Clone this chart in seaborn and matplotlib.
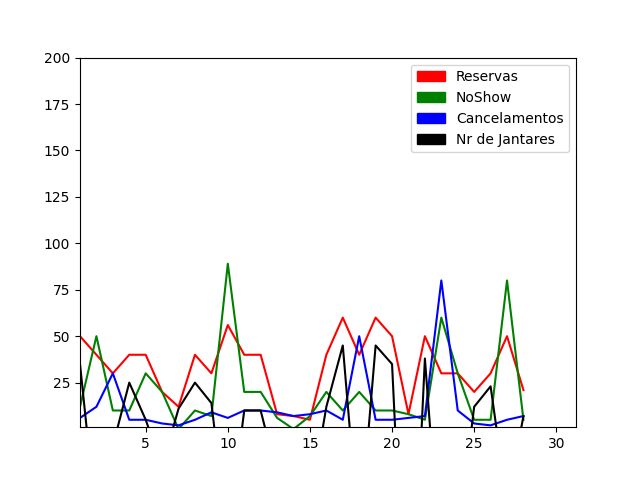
import matplotlib
matplotlib.use('Agg')
import matplotlib.pyplot as plt
import matplotlib.patches as mpatches
import seaborn as sns

dias = list(range(1, 29))
reservas = [50, 40, 30, 40, 40, 20, 12, 40, 30, 56, 40, 40, 8, 7, 5, 40, 60, 40, 60, 50, 8, 50, 30, 30, 20, 30, 50, 21]
noshow = [12, 50, 10, 10, 30, 20, 0, 10, 7, 89, 20, 20, 6, 0, 7, 20, 10, 20, 10, 10, 8, 5, 60, 30, 5, 5, 80, 5]
cancelamentos = [6, 12, 30, 5, 5, 3, 2, 5, 9, 6, 10, 10, 9, 7, 8, 10, 5, 50, 5, 5, 6, 7, 80, 10, 3, 2, 5, 7]
jantares = [35, -50, -9, 25, 5, -20, 11, 25, 14, -60, 10, 10, -25, -40, -40, 12, 45, -60, 45, 35, -150, 38, -80, -60, 12, 23, -40, 7]

fig, ax = plt.subplots(figsize=(6.4, 4.8), dpi=100)
sns.lineplot(x=dias, y=reservas, color='red', ax=ax)
sns.lineplot(x=dias, y=noshow, color='green', ax=ax)
sns.lineplot(x=dias, y=cancelamentos, color='blue', ax=ax)
sns.lineplot(x=dias, y=jantares, color='black', ax=ax)

ax.set_xlim(1, 31.2)
ax.set_ylim(1, 200)
ax.set_yticks([25, 50, 75, 100, 125, 150, 175, 200])

handles = [mpatches.Patch(color='red', label='Reservas'),
           mpatches.Patch(color='green', label='NoShow'),
           mpatches.Patch(color='blue', label='Cancelamentos'),
           mpatches.Patch(color='black', label='Nr de Jantares')]
ax.legend(handles=handles, loc='upper right')

fig.savefig('out.png')
